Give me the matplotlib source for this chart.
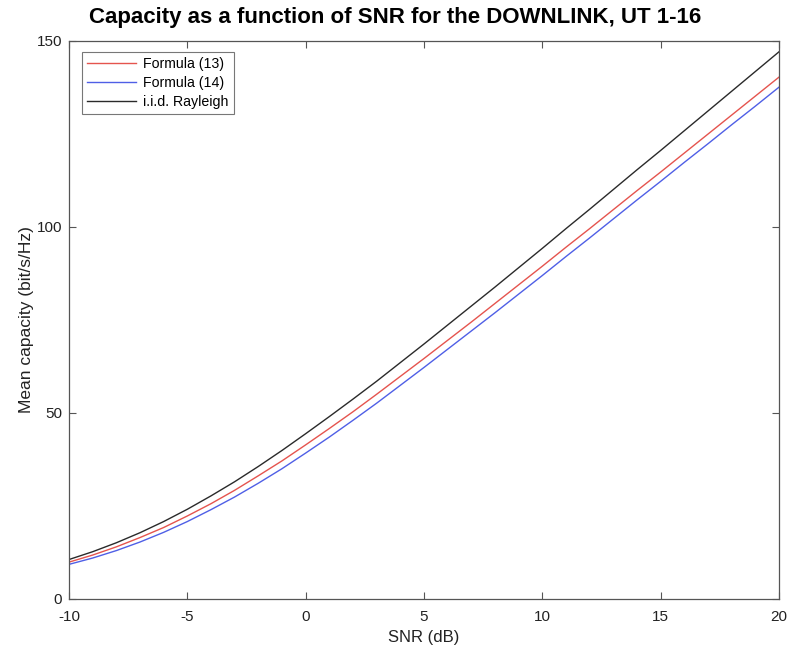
import numpy as np
import matplotlib
matplotlib.use("Agg")
import matplotlib.pyplot as plt

plt.rcParams['font.family'] = ['Liberation Sans', 'DejaVu Sans']
plt.rcParams['axes.unicode_minus'] = False

# SNR grid (dB) and mean capacity curves (bit/s/Hz)
snr_db = list(range(-10, 21))

cap_f13 = [9.9, 11.8, 14.0, 16.5, 19.2, 22.3, 25.6, 29.2, 33.1, 37.1,
           41.4, 45.8, 50.3, 55.0, 59.8, 64.6, 69.5, 74.4, 79.4, 84.4,
           89.4, 94.5, 99.5, 104.6, 109.7, 114.7, 119.8, 124.9, 130.0, 135.1,
           140.2]

cap_f14 = [9.3, 11.0, 13.0, 15.3, 17.9, 20.8, 24.0, 27.4, 31.1, 35.0,
           39.2, 43.5, 48.0, 52.6, 57.4, 62.2, 67.1, 72.0, 76.9, 81.9,
           86.9, 92.0, 97.0, 102.1, 107.2, 112.2, 117.3, 122.3, 127.4, 132.4,
           137.5]

cap_iid = [10.6, 12.7, 15.1, 17.8, 20.8, 24.1, 27.7, 31.5, 35.6, 39.9,
           44.4, 49.0, 53.7, 58.5, 63.5, 68.5, 73.6, 78.7, 83.8, 89.0,
           94.2, 99.5, 104.7, 110.0, 115.3, 120.5, 125.8, 131.1, 136.4, 141.7,
           147.0]

labels = ['Formula (13)', 'Formula (14)', 'i.i.d. Rayleigh']

fig = plt.figure(figsize=(7.9, 6.51), dpi=100)
ax = fig.add_axes([0.0873, 0.0799, 0.8987, 0.8576])

ax.plot(snr_db, cap_f13, color='#e5544e', lw=1.0, label=labels[0])
ax.plot(snr_db, cap_f14, color='#4f5fe6', lw=1.0, label=labels[1])
ax.plot(snr_db, cap_iid, color='#2a2a2a', lw=1.0, label=labels[2])

ax.set_xlim(-10, 20)
ax.set_ylim(0, 150)
ax.set_xticks(np.arange(-10, 21, 5))
ax.set_yticks([0, 50, 100, 150])

for s in ax.spines.values():
    s.set_color('#555555')
    s.set_linewidth(0.9)
ax.tick_params(direction='in', top=True, right=True, length=5, width=0.8,
               color='#555555', labelsize=11, labelcolor='#222222')
ax.tick_params(axis='x', pad=8)
ax.tick_params(axis='y', pad=5)

ax.set_xlabel('SNR (dB)', fontsize=12, color='#222222', labelpad=4)
ax.set_ylabel('Mean capacity (bit/s/Hz)', fontsize=12.5, color='#222222', labelpad=2)
fig.suptitle('Capacity as a function of SNR for the DOWNLINK, UT 1-16',
             x=0.5, y=0.99, fontsize=16, fontweight='bold')

leg = ax.legend(loc='upper left', bbox_to_anchor=(0.019, 0.979), fontsize=10.2,
                frameon=True, fancybox=False, edgecolor='#555555',
                handlelength=3.45, handletextpad=0.5, labelspacing=0.35,
                borderpad=0.35, borderaxespad=0)
leg.get_frame().set_linewidth(0.8)

fig.savefig('out.png', dpi=100)
